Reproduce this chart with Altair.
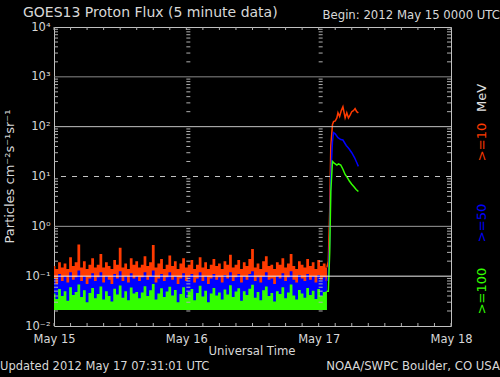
import altair as alt
import pandas as pd

# ---------------- data ----------------
# background (quiet) period, 30-minute samples starting 2012 May 15 00:00 UT (hours)
BG_STEP_H = 0.5
RED_BG = [0.16,0.14,0.19,0.15,0.18,0.14,0.24,0.16,0.19,0.43,
          0.15,0.20,0.14,0.17,0.23,0.15,0.17,0.28,0.15,0.19,
          0.16,0.14,0.21,0.17,0.37,0.15,0.18,0.14,0.23,0.17,
          0.20,0.15,0.17,0.25,0.16,0.19,0.42,0.15,0.18,0.22,
          0.14,0.17,0.26,0.16,0.20,0.14,0.18,0.23,0.15,0.17,
          0.21,0.14,0.17,0.24,0.15,0.19,0.14,0.17,0.22,0.16,
          0.18,0.14,0.20,0.17,0.27,0.15,0.17,0.21,0.14,0.19,
          0.16,0.22,0.35,0.15,0.18,0.14,0.20,0.25,0.16,0.17,
          0.14,0.19,0.17,0.23,0.15,0.18,0.28,0.16,0.14,0.20,
          0.17,0.15,0.22,0.16,0.19,0.14,0.21,0.16,0.18,0.15]
BLUE_BG = [0.09,0.07,0.11,0.08,0.10,0.075,0.12,0.085,0.095,0.13,
           0.08,0.10,0.07,0.09,0.115,0.08,0.095,0.12,0.075,0.10,
           0.085,0.07,0.11,0.09,0.125,0.08,0.10,0.075,0.115,0.09,
           0.10,0.08,0.095,0.12,0.085,0.10,0.13,0.075,0.09,0.11,
           0.08,0.095,0.12,0.085,0.10,0.07,0.09,0.115,0.08,0.095,
           0.11,0.075,0.09,0.12,0.08,0.10,0.07,0.09,0.11,0.085,
           0.095,0.075,0.105,0.09,0.12,0.08,0.095,0.11,0.075,0.10,
           0.085,0.11,0.125,0.08,0.095,0.075,0.10,0.12,0.085,0.09,
           0.07,0.10,0.09,0.115,0.08,0.095,0.125,0.085,0.075,0.105,
           0.09,0.08,0.11,0.085,0.10,0.075,0.105,0.085,0.095,0.08]
GREEN_BG = [0.045,0.035,0.055,0.04,0.05,0.032,0.06,0.042,0.048,0.068,
            0.038,0.052,0.03,0.046,0.058,0.036,0.044,0.062,0.034,0.05,
            0.04,0.031,0.056,0.043,0.065,0.037,0.05,0.033,0.059,0.045,
            0.048,0.036,0.047,0.063,0.04,0.052,0.07,0.034,0.045,0.057,
            0.038,0.049,0.061,0.041,0.053,0.03,0.044,0.06,0.037,0.048,
            0.055,0.033,0.046,0.064,0.039,0.051,0.03,0.045,0.058,0.041,
            0.047,0.034,0.054,0.043,0.066,0.038,0.049,0.057,0.032,0.05,
            0.042,0.056,0.067,0.037,0.048,0.033,0.052,0.062,0.04,0.046,
            0.031,0.05,0.044,0.06,0.036,0.047,0.068,0.041,0.034,0.053,
            0.045,0.037,0.058,0.042,0.051,0.035,0.055,0.04,0.048,0.05]
FLOOR = 0.021

# event period (hours since May 15 00:00)
RED_EV_T = [49.5, 49.75, 50.0, 50.2, 50.5, 50.7, 51.0, 51.3, 51.5, 51.8, 52.1, 52.4,
            52.8, 53.1, 53.4, 53.7, 54.0, 54.3, 54.6, 54.9, 55.2]
RED_EV = [0.15, 0.2, 2.0, 40, 110, 126, 130, 150, 190, 160, 210, 250,
          150, 190, 150, 170, 200, 210, 230, 200, 190]
BLUE_EV_T = [49.5, 49.75, 50.0, 50.2, 50.5, 50.7, 51.0, 51.5, 52.0, 52.4, 53.0,
             53.5, 54.0, 54.5, 55.0, 55.2]
BLUE_EV = [0.08, 0.1, 0.5, 10, 50, 76, 72, 60, 55, 54, 42, 36, 30, 24, 18, 16]
GREEN_EV_T = [49.5, 49.75, 50.0, 50.2, 50.5, 50.7, 51.0, 51.3, 51.6, 52.0, 52.4,
              52.8, 53.2, 53.6, 54.0, 54.4, 54.8, 55.2]
GREEN_EV = [0.05, 0.05, 0.3, 5, 20, 19, 18, 17, 18, 17, 14, 11, 9.5, 8, 7, 6.2, 5.5, 5.0]

DAY_HOURS = [0, 24, 48, 72]
DAY_LABELS = ["May 15", "May 16", "May 17", "May 18"]
DECADES = [-2, -1, 0, 1, 2, 3, 4]
DECADE_LABELS = ["10⁻²", "10⁻¹", "10⁰", "10¹", "10²", "10³", "10⁴"]
MINOR_MULT = [2, 3, 4, 5, 6, 7, 8, 9]
HOUR_TICK_STEP = 3

# ---------------- frames ----------------
n = len(RED_BG)
bg = pd.DataFrame({
    "t": [i * BG_STEP_H for i in range(n)],
    "red": RED_BG, "blue": BLUE_BG, "green": GREEN_BG, "floor": [FLOOR] * n,
})
red_ev = pd.DataFrame({"t": RED_EV_T, "v": RED_EV})
blue_ev = pd.DataFrame({"t": BLUE_EV_T, "v": BLUE_EV})
green_ev = pd.DataFrame({"t": GREEN_EV_T, "v": GREEN_EV})

minor_vals = [m * 10.0 ** d for d in DECADES[:-1] for m in MINOR_MULT]
minor_right = pd.DataFrame([{"t": h, "y": v} for h in DAY_HOURS[:-1] for v in minor_vals])
minor_left = pd.DataFrame([{"t": DAY_HOURS[-1], "y": v} for v in minor_vals])
hour_ticks = pd.DataFrame({"t": list(range(0, 73, HOUR_TICK_STEP))})

grid_solid = pd.DataFrame({"y": [1000, 100, 1, 0.1],
                           "c": ["#8a8a8a", "#c4c4c4", "#9c9c9c", "#f0f0f0"]})
grid_dash = pd.DataFrame({"y": [10]})

W, H = 397, 299
FONT = "DejaVu Sans"
TXT = "#d8d8d8"

xs = alt.Scale(domain=[0, 72], nice=False, zero=False)
ys = alt.Scale(type="log", domain=[0.01, 10000], nice=False)

label_map = "[" + ",".join("'%s'" % s for s in DAY_LABELS) + "][round(datum.value/24)]"
ylabel_map = "[" + ",".join("'%s'" % s for s in DECADE_LABELS) + "][round(log(datum.value)/LN10)+2]"

X_AXIS = alt.Axis(values=DAY_HOURS, labelExpr=label_map, title=None,
                  labelFont=FONT, labelFontSize=11.5, labelColor=TXT,
                  labelPadding=7, ticks=False, domain=False, grid=False,
                  labelFlush=False)
Y_AXIS = alt.Axis(values=[10.0 ** d for d in DECADES], labelExpr=ylabel_map, title=None,
                  labelFont=FONT, labelFontSize=11.5, labelColor=TXT, labelPadding=4,
                  ticks=False, domain=False, grid=False, labelFlush=False)


def X(field="t:Q"):
    return alt.X(field, scale=xs, axis=X_AXIS)


def Y(field):
    return alt.Y(field, scale=ys, axis=Y_AXIS)


base = alt.Chart(bg)
red_area = base.mark_area(color="#ff3a00", interpolate="step").encode(
    x=X(), y=Y("red:Q"), y2="floor:Q")
blue_area = base.mark_area(color="#0000ff", interpolate="step").encode(
    x=X(), y=Y("blue:Q"), y2="floor:Q")
green_area = base.mark_area(color="#33ff00", interpolate="step").encode(
    x=X(), y=Y("green:Q"), y2="floor:Q")

red_line = alt.Chart(red_ev).mark_line(color="#ff3a00", strokeWidth=1.5).encode(
    x=X(), y=Y("v:Q"))
blue_line = alt.Chart(blue_ev).mark_line(color="#0000ff", strokeWidth=1.5).encode(
    x=X(), y=Y("v:Q"))
green_line = alt.Chart(green_ev).mark_line(color="#33ff00", strokeWidth=1.5).encode(
    x=X(), y=Y("v:Q"))

grid1 = alt.Chart(grid_solid).mark_rule(strokeWidth=1).encode(
    y=Y("y:Q"), color=alt.Color("c:N", scale=None))
grid2 = alt.Chart(grid_dash).mark_rule(strokeWidth=1, color="#c4c4c4", strokeDash=[5, 6]).encode(
    y=Y("y:Q"))

tick_r = alt.Chart(minor_right).mark_rule(color="#b0b0b0", x2Offset=4).encode(
    x=X(), x2="t:Q", y=Y("y:Q"))
tick_l = alt.Chart(minor_left).mark_rule(color="#b0b0b0", x2Offset=-4).encode(
    x=X(), x2="t:Q", y=Y("y:Q"))
tick_top = alt.Chart(hour_ticks).mark_rule(color="#b0b0b0").encode(
    x=X(), y=alt.value(0), y2=alt.value(3))
tick_bot = alt.Chart(hour_ticks).mark_rule(color="#b0b0b0").encode(
    x=X(), y=alt.value(H), y2=alt.value(H - 3))


def txt(s, x, y, size=11, color=TXT, align="left", angle=0, baseline="alphabetic"):
    return alt.Chart(pd.DataFrame({"s": [s]})).mark_text(
        font=FONT, fontSize=size, color=color, align=align, angle=angle, baseline=baseline
    ).encode(text="s:N", x=alt.value(x), y=alt.value(y))


texts = [
    txt("GOES13 Proton Flux (5 minute data)", -31, -10, size=14),
    txt("Begin: 2012 May 15 0000 UTC", 446, -8, size=11.7, align="right"),
    txt("Universal Time", 198, 328, size=11.7, align="center"),
    txt("Updated 2012 May 17 07:31:01 UTC", -54, 343, size=11.5),
    txt("NOAA/SWPC Boulder, CO USA", 446, 343, size=11.7, align="right"),
    txt("Particles cm⁻²s⁻¹sr⁻¹", -44, H / 2, size=13, align="center", angle=270, baseline="middle"),
    txt("MeV", 428, 71, size=13, color="#e0e0e0", align="center", angle=270, baseline="middle"),
    txt(">=10", 428, 115, size=13, color="#ff3a00", align="center", angle=270, baseline="middle"),
    txt(">=50", 428, 196, size=13, color="#0000ff", align="center", angle=270, baseline="middle"),
    txt(">=100", 428, 264, size=13, color="#33ff00", align="center", angle=270, baseline="middle"),
]

chart = alt.layer(
    red_area, blue_area, green_area, red_line, blue_line, green_line,
    grid1, grid2, tick_r, tick_l, tick_top, tick_bot, *texts
).properties(
    width=W, height=H,
    autosize=alt.AutoSizeParams(type="none"),
    padding={"left": 54, "top": 27, "right": 49, "bottom": 51},
    background="black",
).configure_view(
    fill="black", stroke="#c0c0c0", strokeWidth=1
)

chart.save("out.html", embed_options={"renderer": "svg", "actions": False})
